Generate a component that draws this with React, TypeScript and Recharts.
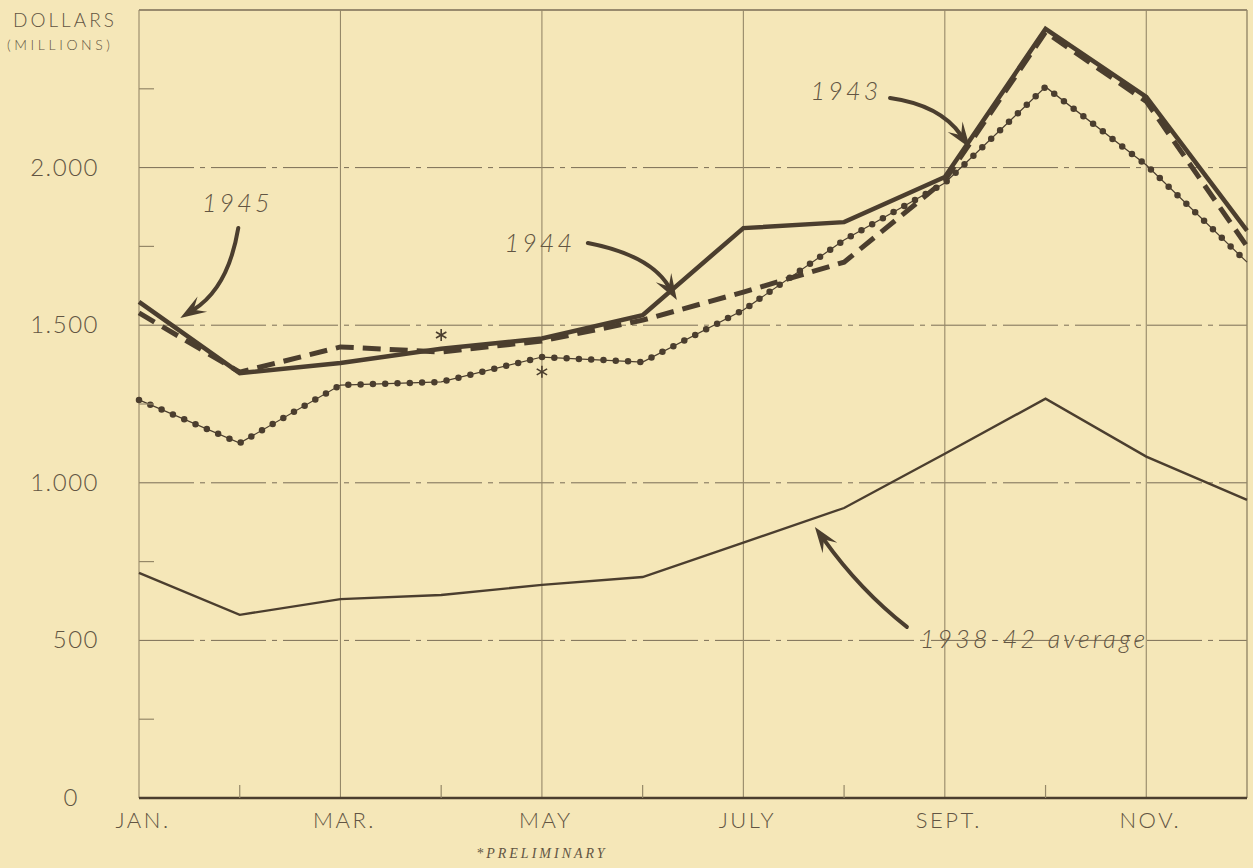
import React from "react";
import { LineChart, Line, XAxis, YAxis, ReferenceLine, ReferenceDot } from "recharts";

const months = ["JAN.", "FEB.", "MAR.", "APR.", "MAY", "JUNE", "JULY", "AUG.", "SEPT.", "OCT.", "NOV.", "DEC."];
const labelledMonths = ["JAN.", "MAR.", "MAY", "JULY", "SEPT.", "NOV."];

// dollars, millions
const sales1945 = [1574, 1348, 1380, 1425, 1458, 1532, 1808, 1827, 1970, 2440, 2224, 1800];
const sales1944 = [1539, 1351, 1431, 1415, 1450, 1516, 1605, 1700, 1960, 2430, 2210, 1750];
const sales1943 = [1263, 1126, 1310, 1320, 1399, 1383, 1548, 1770, 1951, 2256, 2008, 1700];
const average3842 = [714, 581, 631, 644, 676, 701, 810, 920, 1092, 1267, 1083, 946];

const yTicks = [0, 250, 500, 750, 1000, 1250, 1500, 1750, 2000, 2250, 2500];
const gridValues = [500, 1000, 1500, 2000];
const preliminaryMarks = [
  { x: 3, y: 1469 },
  { x: 4, y: 1352 },
];

const data = months.map((m, i) => ({
  i,
  month: m,
  y1945: sales1945[i],
  y1944: sales1944[i],
  y1943: sales1943[i],
  avg: average3842[i],
}));

const INK = "#4b3e2e";
const TEXT = "#65584540";
const LABEL = "#625543";
const GRID = "#958868";
const SANS = "Lato, 'DejaVu Sans', sans-serif";
const SERIF = "'Liberation Serif', 'DejaVu Serif', serif";

const fmt = (v: number) => (v >= 1000 ? `${Math.floor(v / 1000)}.${String(v % 1000).padStart(3, "0")}` : String(v));

const XTick = (props: any) => {
  const { x, y, payload } = props;
  const label = months[payload.value];
  if (labelledMonths.includes(label)) {
    return (
      <text x={x + 4} y={y + 30} textAnchor="middle" fill={LABEL} fontFamily={SANS} fontWeight={300} fontSize={22} letterSpacing={2.5}>
        {label}
      </text>
    );
  }
  if (payload.value === 11) return null;
  return <line x1={x} x2={x} y1={y} y2={y - 13} stroke={GRID} strokeWidth={1.2} />;
};

const LeftTick = (props: any) => {
  const { x, y, payload } = props;
  const v = payload.value;
  if (v % 500 !== 0) return <line x1={x} x2={x + 15} y1={y} y2={y} stroke={GRID} strokeWidth={1.2} />;
  if (v === 2500) return null;
  return (
    <text x={v === 0 ? x - 60 : x - 40} y={y + 8} textAnchor="end" fill={LABEL} fontFamily={SANS} fontWeight={300} fontSize={24} letterSpacing={1.5}>
      {fmt(v)}
    </text>
  );
};

const RightTick = (props: any) => {
  const { x, y, payload } = props;
  if (payload.value % 500 === 0) return null;
  return <line x1={x - 15} x2={x} y1={y} y2={y} stroke={GRID} strokeWidth={1.2} />;
};

// label + curved arrow whose tip sits on the data point
const Note = (props: any) => {
  const { cx, cy, text, tx, ty, anchor, tail, ctrl } = props;
  const qx = cx + ctrl[0];
  const qy = cy + ctrl[1];
  const dx = cx - qx;
  const dy = cy - qy;
  const len = Math.hypot(dx, dy);
  const ux = dx / len;
  const uy = dy / len;
  const hl = 26;
  const hw = 9;
  const bx = cx - ux * hl;
  const by = cy - uy * hl;
  const nx = cx - ux * hl * 0.6;
  const ny = cy - uy * hl * 0.6;
  const head = `M${cx},${cy} L${bx - uy * hw},${by + ux * hw} L${nx},${ny} L${bx + uy * hw},${by - ux * hw} Z`;
  return (
    <g>
      <path d={`M${cx + tail[0]},${cy + tail[1]} Q${qx},${qy} ${nx},${ny}`} fill="none" stroke={INK} strokeWidth={4} strokeLinecap="round" />
      <path d={head} fill={INK} />
      <text x={cx + tx} y={cy + ty} textAnchor={anchor} fill={LABEL} fontFamily={SANS} fontWeight={300} fontStyle="italic" fontSize={25} letterSpacing={3.2}>
        {text}
      </text>
    </g>
  );
};

const Star = (props: any) => {
  const { cx, cy } = props;
  const r = 6;
  return (
    <g stroke={INK} strokeWidth={1.6}>
      {[90, 30, -30].map((a) => {
        const dx = r * Math.cos((a * Math.PI) / 180);
        const dy = r * Math.sin((a * Math.PI) / 180);
        return <line key={a} x1={cx - dx} y1={cy - dy} x2={cx + dx} y2={cy + dy} />;
      })}
    </g>
  );
};

const Footnote = (props: any) => (
  <text x={props.cx} y={props.cy + 60} textAnchor="middle" fill={LABEL} fontFamily={SERIF} fontStyle="italic" fontSize={14} letterSpacing={3}>
    *PRELIMINARY
  </text>
);

const App = () => {
  return (
    <div style={{ position: "fixed", left: 0, top: 0, width: 1253, height: 868, background: "#f5e7b8" }}>
      <div style={{ position: "absolute", left: 13, top: 11, color: LABEL, fontFamily: SANS, fontWeight: 300, fontSize: 19, letterSpacing: 3, lineHeight: "18px" }}>
        DOLLARS
      </div>
      <div style={{ position: "absolute", left: 7, top: 38, color: LABEL, fontFamily: SANS, fontWeight: 300, fontSize: 14, letterSpacing: 3.6, lineHeight: "14px" }}>
        (MILLIONS)
      </div>
      <LineChart width={1253} height={868} data={data} margin={{ top: 10, right: 6, bottom: 30, left: 0 }}>
        <XAxis
          dataKey="i"
          type="number"
          domain={[0, 11]}
          ticks={months.map((_, i) => i)}
          tick={<XTick />}
          tickLine={false}
          tickSize={0}
          tickMargin={0}
          height={40}
          axisLine={{ stroke: INK, strokeWidth: 2.5 }}
          interval={0}
        />
        <YAxis yAxisId="left" width={139} domain={[0, 2500]} ticks={yTicks} tick={<LeftTick />} tickLine={false} tickSize={0} tickMargin={0} axisLine={false} interval={0} />
        <YAxis yAxisId="right" orientation="right" width={0} domain={[0, 2500]} ticks={yTicks} tick={<RightTick />} tickLine={false} tickSize={0} tickMargin={0} axisLine={false} interval={0} />

        {gridValues.map((v) => (
          <ReferenceLine key={`h${v}`} yAxisId="left" y={v} stroke="#7a6d56" strokeWidth={1} strokeDasharray="55 6 5 6" />
        ))}
        <ReferenceLine yAxisId="left" y={2500} stroke="#7a6d56" strokeWidth={1.3} />
        {[0, 2, 4, 6, 8, 10].map((i) => (
          <ReferenceLine key={`v${i}`} yAxisId="left" x={i} stroke={GRID} strokeWidth={1.1} />
        ))}
        <ReferenceLine yAxisId="left" x={11} stroke={GRID} strokeWidth={1.4} />

        <Line yAxisId="left" dataKey="avg" stroke={INK} strokeWidth={2.4} dot={false} isAnimationActive={false} />
        <Line yAxisId="left" dataKey="y1943" stroke={INK} strokeWidth={1.2} dot={false} isAnimationActive={false} />
        <Line yAxisId="left" dataKey="y1943" stroke={INK} strokeWidth={6.5} strokeDasharray="0 12.3" strokeLinecap="round" dot={false} isAnimationActive={false} />
        <Line yAxisId="left" dataKey="y1944" stroke={INK} strokeWidth={5} strokeDasharray="18 9" dot={false} isAnimationActive={false} />
        <Line yAxisId="left" dataKey="y1945" stroke={INK} strokeWidth={4.5} dot={false} isAnimationActive={false} />

        {preliminaryMarks.map((p) => (
          <ReferenceDot key={`s${p.x}`} yAxisId="left" x={p.x} y={p.y} r={0} ifOverflow="visible" shape={<Star />} />
        ))}
        <ReferenceDot yAxisId="left" x={4} y={0} r={0} ifOverflow="visible" shape={<Footnote />} />

        <ReferenceDot yAxisId="left" x={0.41} y={1523} r={0} ifOverflow="visible"
          shape={<Note text="1945" tx={57} ty={-106} anchor="middle" tail={[58, -90]} ctrl={[48, -30]} />} />
        <ReferenceDot yAxisId="left" x={5.34} y={1580} r={0} ifOverflow="visible"
          shape={<Note text="1944" tx={-137} ty={-48} anchor="middle" tail={[-89, -57]} ctrl={[-27, -45]} />} />
        <ReferenceDot yAxisId="left" x={8.25} y={2062} r={0} ifOverflow="visible"
          shape={<Note text="1943" tx={-124} ty={-48} anchor="middle" tail={[-80, -50]} ctrl={[-30, -43]} />} />
        <ReferenceDot yAxisId="left" x={6.71} y={860} r={0} ifOverflow="visible"
          shape={<Note text="1938-42 average" tx={105} ty={121} anchor="start" tail={[92, 100]} ctrl={[45, 63]} />} />
      </LineChart>
    </div>
  );
};

export default App;
